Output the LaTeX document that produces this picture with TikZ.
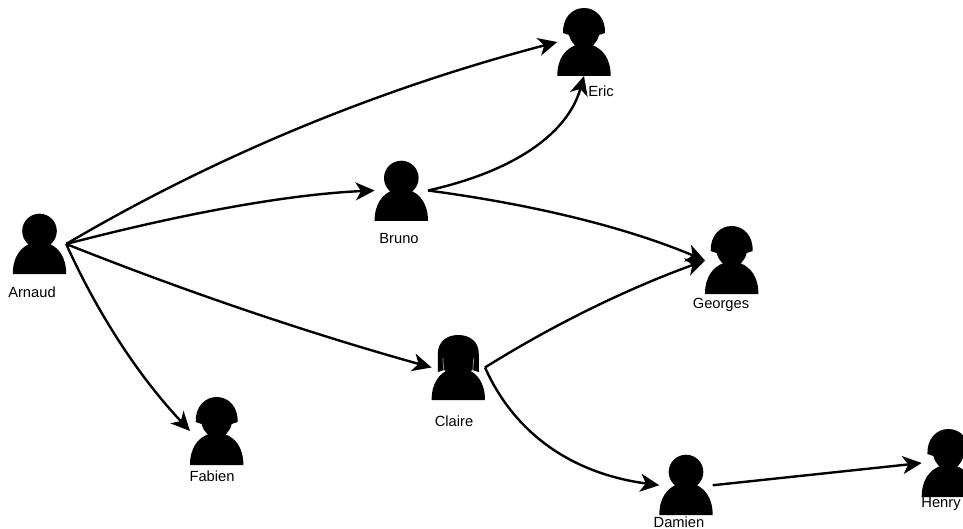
\documentclass[tikz,border=0pt]{standalone}
\usepackage{fontspec}
\setmainfont{Liberation Sans}
\usetikzlibrary{calc,arrows.meta}
\tikzset{
  personbox/.style={inner sep=0pt,outer sep=0pt,minimum width=53.4pt,rectangle},
  lbl/.style={inner sep=0pt,font=\fontsize{14.7}{16}\selectfont,text=black},
  conn/.style={line width=2.4pt,black,-{Stealth[length=19pt,width=18pt,inset=5.5pt]}},
}
\newcommand{\bodyshape}{\fill[black] (-26.7,0) .. controls (-26.7,-17) and (-19,-27) .. (-8,-31) -- (8,-31) .. controls (19,-27) and (26.7,-17) .. (26.7,0) -- cycle;}
\newcommand{\plainhead}{\bodyshape \fill[black] (0,-43) circle (17.3);}
\newcommand{\shorthair}{\bodyshape
  \fill[black] (-21,-43) .. controls (-21.5,-58) and (-12,-68) .. (0,-68) .. controls (12,-68) and (21.5,-58) .. (21,-43) -- (15,-41) .. controls (13,-33) and (8,-28) .. (0,-26) .. controls (-8,-28) and (-13,-33) .. (-15,-41) -- cycle;}
\newcommand{\longhair}{\bodyshape
  \fill[black] (-20.5,-28) -- (-20.5,-46) .. controls (-20.5,-58) and (-12,-65) .. (0,-65) .. controls (12,-65) and (20.5,-58) .. (20.5,-46) -- (20.5,-28) -- (14,-30) -- (8,-26) -- (-8,-26) -- (-14,-30) -- cycle;
  \draw[black!45,line width=0.8pt] (-15.5,-42) -- (-14.5,-30) (15.5,-42) -- (14.5,-30);}
% name, centre x, bottom y, height, head drawing, label, label x, label y
\newcommand{\person}[8]{%
  \node[personbox,minimum height=#4pt] (#1) at (#2,#3-#4/2) {};
  \begin{scope}[shift={(#2,#3)}]#5\end{scope}
  \node[lbl] (#1-label) at (#7,#8) {#6};
}
\newcommand{\qcurve}[4][]{\draw[conn,#1] (#2) .. controls ($(#2)!0.667!(#3)$) and ($(#4)!0.667!(#3)$) .. (#4);}
\begin{document}
\begin{tikzpicture}[x=1pt,y=-1pt]
\useasboundingbox (0,0) rectangle (963,529);
\person{arnaud}{39.5}{274}{60}{\plainhead}{Arnaud}{32}{292.5}
\person{bruno}{401.3}{221}{61}{\plainhead}{Bruno}{399}{238.5}
\person{eric}{584}{76}{68}{\shorthair}{Eric}{601}{91}
\person{georges}{731.7}{294}{67}{\shorthair}{Georges}{721}{304.5}
\person{claire}{458.3}{400}{65}{\longhair}{Claire}{454}{421}
\person{fabien}{216.7}{465}{68}{\shorthair}{Fabien}{212}{476}
\person{damien}{686}{515}{59.5}{\plainhead}{Damien}{679}{522}
\person{henry}{948.4}{497}{68}{\shorthair}{Henry}{941}{504}
\coordinate (c1) at (290,112);
\coordinate (c2) at (250,196);
\coordinate (c3) at (247,316);
\coordinate (c4) at (114,350);
\coordinate (c5) at (560,161);
\coordinate (c6) at (590,212);
\coordinate (c7) at (588,303);
\coordinate (c8) at (530,468);
\qcurve{arnaud.east}{c1}{eric.west}
\qcurve{arnaud.east}{c2}{bruno.west}
\qcurve{arnaud.east}{c3}{claire.west}
\qcurve{arnaud.east}{c4}{fabien.west}
\qcurve{bruno.east}{c5}{eric.south}
\qcurve{bruno.east}{c6}{georges.west}
\qcurve{claire.east}{c7}{georges.west}
\qcurve{claire.east}{c8}{damien.west}
\draw[conn] (damien.east) -- (henry.west);
\end{tikzpicture}
\end{document}
